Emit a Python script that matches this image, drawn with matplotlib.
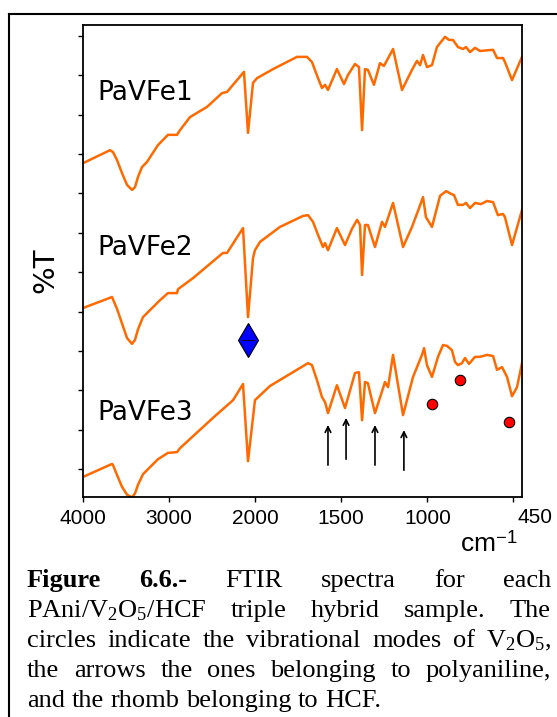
import numpy as np
import matplotlib
matplotlib.use('agg')
import matplotlib.pyplot as plt
from matplotlib.lines import Line2D

plt.rcParams['mathtext.fontset'] = 'custom'
plt.rcParams['mathtext.rm'] = 'Liberation Serif'
plt.rcParams['mathtext.it'] = 'Liberation Serif:italic'
plt.rcParams['mathtext.bf'] = 'Liberation Serif:bold'

# wavenumbers (cm-1) and transmittance (arbitrary, offset)
wn_1 = [4000, 3686, 3651, 3605, 3547, 3489, 3431, 3396, 3361, 3315, 3257, 3129, 3013, 2908, 2873, 2757,
        2559, 2385, 2327, 2141, 2130, 2083, 2025, 1989, 1896, 1757, 1699, 1670, 1635, 1612, 1594, 1577,
        1525, 1484, 1461, 1420, 1397, 1379, 1362, 1345, 1310, 1275, 1252, 1199, 1147, 1089, 1060, 1042,
        1025, 1002, 973, 944, 897, 874, 851, 822, 793, 775, 752, 723, 694, 618, 595, 560, 549, 508, 450]
t_1 = [7.77, 8.10, 8.05, 7.85, 7.52, 7.22, 7.09, 7.16, 7.42, 7.67, 7.80, 8.23, 8.49, 8.49, 8.61, 8.94,
       9.20, 9.55, 9.58, 10.06, 10.09, 8.54, 9.81, 9.93, 10.16, 10.47, 10.47, 10.34, 9.93, 9.68, 9.76, 9.63,
       10.16, 9.78, 10.01, 10.29, 10.21, 8.61, 10.16, 10.14, 9.76, 10.31, 10.24, 10.67, 9.63, 10.14, 10.37, 10.26,
       10.52, 10.21, 10.26, 10.72, 10.98, 10.90, 10.90, 10.72, 10.67, 10.72, 10.59, 10.70, 10.62, 10.65, 10.44,
       10.44, 10.34, 9.88, 10.47]

wn_2 = [4000, 3663, 3605, 3547, 3489, 3431, 3396, 3361, 3303, 3105, 3013, 2908, 2896, 2722, 2374, 2327,
        2141, 2083, 2025, 2002, 1972, 1856, 1722, 1693, 1664, 1635, 1606, 1594, 1577, 1525, 1478, 1438,
        1408, 1391, 1379, 1362, 1345, 1304, 1263, 1246, 1199, 1141, 1089, 1048, 1025, 1008, 973, 926,
        891, 862, 845, 822, 793, 775, 752, 723, 688, 653, 618, 590, 560, 549, 508, 450]
t_2 = [4.09, 4.37, 4.07, 3.70, 3.33, 3.18, 3.28, 3.55, 3.86, 4.29, 4.47, 4.47, 4.57, 4.85, 5.49, 5.49,
       6.12, 3.86, 5.36, 5.56, 5.77, 6.15, 6.43, 6.45, 6.28, 5.95, 5.64, 5.74, 5.56, 6.12, 5.69, 6.10,
       6.33, 6.20, 4.93, 6.20, 6.20, 5.64, 6.28, 6.15, 6.76, 5.64, 6.15, 6.63, 6.91, 6.40, 6.15, 6.94,
       7.06, 6.99, 6.96, 6.71, 6.71, 6.76, 6.63, 6.76, 6.73, 6.81, 6.78, 6.45, 6.48, 6.40, 5.69, 6.58]

wn_3 = [4000, 3663, 3651, 3605, 3547, 3489, 3431, 3396, 3361, 3303, 3129, 3013, 2908, 2873, 2490, 2257,
        2141, 2083, 2002, 1914, 1693, 1670, 1641, 1612, 1594, 1577, 1525, 1478, 1420, 1397, 1379, 1362,
        1345, 1304, 1246, 1228, 1199, 1141, 1083, 1031, 1019, 1002, 973, 938, 909, 886, 857, 839,
        822, 799, 781, 758, 723, 694, 653, 618, 595, 566, 537, 508, 479, 450]
t_3 = [-0.20, 0.13, 0.10, -0.15, -0.45, -0.65, -0.72, -0.62, -0.40, -0.13, 0.25, 0.41, 0.43, 0.53, 1.30, 1.75,
       2.16, 0.20, 1.75, 2.11, 2.69, 2.64, 2.26, 1.83, 1.70, 1.42, 2.13, 1.55, 2.44, 2.46, 1.24, 2.21,
       2.18, 1.42, 2.21, 2.08, 2.90, 1.37, 2.34, 2.90, 3.07, 2.64, 2.34, 2.85, 3.15, 3.13, 3.02, 2.72,
       2.64, 2.69, 2.82, 2.67, 2.85, 2.85, 2.90, 2.87, 2.52, 2.59, 2.34, 1.85, 2.08, 2.69]

sample_names = ['PaVFe1', 'PaVFe2', 'PaVFe3']
label_y = [9.55, 5.61, 1.42]

# V2O5 modes (circles), polyaniline bands (arrows), HCF band (rhomb)
circle_wn = [973, 810, 526]
circle_y = [1.65, 2.26, 1.19]
arrow_wn = [1577, 1472, 1304, 1136]
arrow_tail = [0.10, 0.25, 0.10, -0.03]
arrow_head = [1.12, 1.30, 1.12, 0.99]
rhomb_wn = 2083
rhomb_y = 3.28

xticks = [4000, 3000, 2000, 1500, 1000, 500]
xticklabels = ['4000', '3000', '2000', '1500', '1000', '']

caption_lines = [
    [('Figure', True), ('6.6.-', True), ('FTIR', False), ('spectra', False), ('for', False), ('each', False)],
    [('PAni/V$_2$O$_5$/HCF', False), ('triple', False), ('hybrid', False), ('sample.', False), ('The', False)],
    [('circles', False), ('indicate', False), ('the', False), ('vibrational', False), ('modes', False),
     ('of', False), ('V$_2$O$_5$,', False)],
    [('the', False), ('arrows', False), ('the', False), ('ones', False), ('belonging', False), ('to', False),
     ('polyaniline,', False)],
    [('and', False), ('the', False), ('rhomb', False), ('belonging', False), ('to', False), ('HCF.', False)],
]


# x axis is stretched by 2 below 2000 cm-1
def fwd(x):
    x = np.asarray(x, dtype=float)
    return np.where(x > 2000, 2000 + (x - 2000) / 2.0, x)


def inv(u):
    u = np.asarray(u, dtype=float)
    return np.where(u > 2000, 2000 + (u - 2000) * 2.0, u)


W, H = 557, 717
fig = plt.figure(figsize=(W / 100, H / 100), dpi=100)
ax = fig.add_axes([83 / W, 1 - 497 / H, (522 - 83) / W, 472 / H])
ax.set_xscale('function', functions=(fwd, inv))

orange = '#ff6a00'
for wn, t in [(wn_1, t_1), (wn_2, t_2), (wn_3, t_3)]:
    ax.plot(wn, t, color=orange, lw=1.8, solid_joinstyle='round')

for name, y in zip(sample_names, label_y):
    ax.text(3830, y, name, fontsize=19, family='DejaVu Sans', va='center', ha='left')

ax.plot(circle_wn, circle_y, 'o', ms=7.5, mfc='#ff0000', mec='black', mew=0.8, ls='none')
ax.plot(rhomb_wn, rhomb_y, marker='d', ms=17, mfc='#0000ff', mec='black', mew=0.8)
ax.plot(rhomb_wn, rhomb_y, marker='_', ms=10, mew=0.6, color='black')

for x, y0, y1 in zip(arrow_wn, arrow_tail, arrow_head):
    ax.annotate('', xy=(x, y1), xytext=(x, y0),
                arrowprops=dict(arrowstyle='->', lw=1.2, color='black', shrinkA=0, shrinkB=0))

ax.set_xlim(4000, 450)
ax.set_ylim(-0.71, 11.28)
ax.set_xticks(xticks)
ax.set_xticklabels(xticklabels, fontsize=15, family='Liberation Sans')
ax.set_yticks(range(12))
ax.set_yticklabels([])
ax.xaxis.set_minor_locator(matplotlib.ticker.NullLocator())
ax.tick_params(direction='out', length=3.5, width=1, pad=5)
ax.annotate('450', xy=(450, 0), xycoords=('data', 'axes fraction'), xytext=(9, -8),
            textcoords='offset points', ha='center', va='top', fontsize=15, family='Liberation Sans')
for s in ax.spines.values():
    s.set_linewidth(1.3)
    s.set_color('black')

fig.text(45 / W, 1 - 270 / H, '%T', rotation=90, fontsize=21, family='DejaVu Sans', ha='center', va='center')
fig.text(460 / W, 1 - 552 / H, 'cm$^{\\mathregular{-1}}$', fontsize=19, family='Liberation Sans', va='baseline')

# outer frame (left and top only)
fig.add_artist(Line2D([9 / W, 9 / W], [0, 1 - 14 / H], color='black', lw=1.5))
fig.add_artist(Line2D([9 / W, 1], [1 - 14 / H, 1 - 14 / H], color='black', lw=1.5))

# caption, justified by hand
renderer = fig.canvas.get_renderer()
left_px, right_px = 27, 551
fs = 19
for i, words in enumerate(caption_lines):
    base = 587 + 30 * i
    texts = []
    for w, bold in words:
        texts.append(fig.text(0, 1 - base / H, w, fontsize=fs, family='Liberation Serif',
                              fontweight='bold' if bold else 'normal', va='baseline'))
    widths = [tx.get_window_extent(renderer).width for tx in texts]
    if i < len(caption_lines) - 1:
        gap = (right_px - left_px - sum(widths)) / (len(words) - 1)
    else:
        gap = 0.25 * fs * 100 / 72
    x = left_px
    for tx, w in zip(texts, widths):
        tx.set_x(x / W)
        x += w + gap

fig.savefig('out.png', dpi=100)
